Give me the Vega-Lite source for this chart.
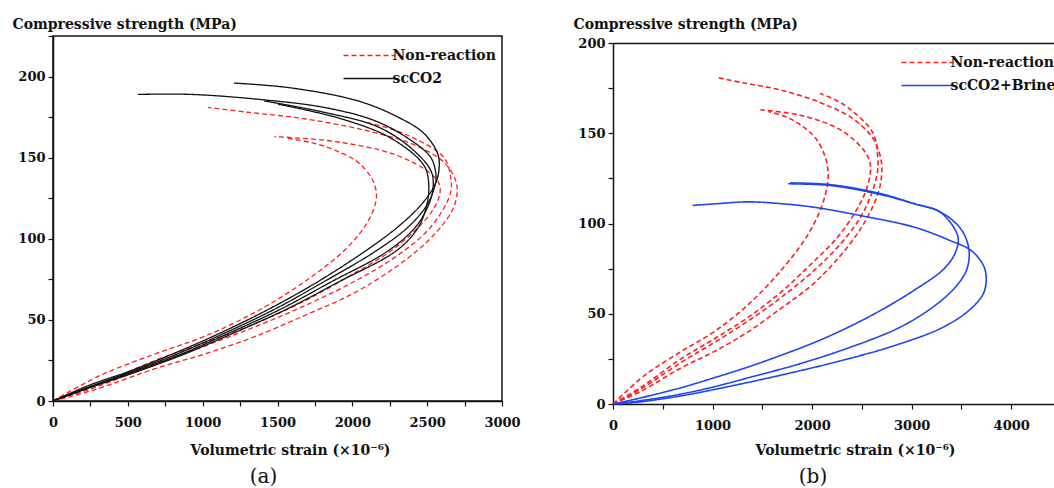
{
  "$schema": "https://vega.github.io/schema/vega-lite/v6.json",
  "background": "white",
  "padding": {"left": 11, "top": 16, "right": 0, "bottom": 0},
  "config": {
    "font": "DejaVu Serif",
    "view": {"stroke": "#111111", "strokeWidth": 1.5},
    "axis": {
      "grid": false,
      "domainColor": "#111111", "domainWidth": 1.5,
      "tickColor": "#111111", "tickWidth": 1.2, "tickSize": 5,
      "labelFont": "DejaVu Serif", "labelFontWeight": "bold", "labelFontSize": 13, "labelColor": "#111111",
      "labelOverlap": false, "labelBound": false, "labelFlush": false,
      "titleFont": "DejaVu Serif", "titleFontWeight": "bold", "titleFontSize": 14, "titleColor": "#111111"
    },
    "legend": {
      "orient": "none", "padding": 0, "rowPadding": 2,
      "symbolType": "M0,0H4", "symbolSize": 673, "symbolStrokeWidth": 1.5,
      "symbolOffset": -11.5, "labelOffset": 35,
      "labelFont": "DejaVu Serif", "labelFontWeight": "bold", "labelFontSize": 14, "labelColor": "#111111"
    }
  },
  "datasets": {
    "curves": [
      {"g":"Non-reaction","c":"N1","i":0,"e":0,"s":0},
      {"g":"Non-reaction","c":"N1","i":1,"e":280,"s":7},
      {"g":"Non-reaction","c":"N1","i":2,"e":683,"s":20},
      {"g":"Non-reaction","c":"N1","i":3,"e":1015,"s":29},
      {"g":"Non-reaction","c":"N1","i":4,"e":1357,"s":40},
      {"g":"Non-reaction","c":"N1","i":5,"e":1688,"s":53},
      {"g":"Non-reaction","c":"N1","i":6,"e":2000,"s":66},
      {"g":"Non-reaction","c":"N1","i":7,"e":2250,"s":80},
      {"g":"Non-reaction","c":"N1","i":8,"e":2450,"s":94},
      {"g":"Non-reaction","c":"N1","i":9,"e":2580,"s":106},
      {"g":"Non-reaction","c":"N1","i":10,"e":2670,"s":118},
      {"g":"Non-reaction","c":"N1","i":11,"e":2700,"s":128},
      {"g":"Non-reaction","c":"N1","i":12,"e":2690,"s":136},
      {"g":"Non-reaction","c":"N1","i":13,"e":2613,"s":147},
      {"g":"Non-reaction","c":"N1","i":14,"e":2412,"s":158},
      {"g":"Non-reaction","c":"N1","i":15,"e":2080,"s":167},
      {"g":"Non-reaction","c":"N1","i":16,"e":1680,"s":174},
      {"g":"Non-reaction","c":"N1","i":17,"e":1300,"s":178},
      {"g":"Non-reaction","c":"N1","i":18,"e":1035,"s":181},

      {"g":"Non-reaction","c":"N2","i":0,"e":0,"s":0},
      {"g":"Non-reaction","c":"N2","i":1,"e":300,"s":9},
      {"g":"Non-reaction","c":"N2","i":2,"e":683,"s":23},
      {"g":"Non-reaction","c":"N2","i":3,"e":1015,"s":34},
      {"g":"Non-reaction","c":"N2","i":4,"e":1357,"s":46},
      {"g":"Non-reaction","c":"N2","i":5,"e":1688,"s":59},
      {"g":"Non-reaction","c":"N2","i":6,"e":2020,"s":74},
      {"g":"Non-reaction","c":"N2","i":7,"e":2291,"s":89},
      {"g":"Non-reaction","c":"N2","i":8,"e":2492,"s":104},
      {"g":"Non-reaction","c":"N2","i":9,"e":2600,"s":117},
      {"g":"Non-reaction","c":"N2","i":10,"e":2655,"s":128},
      {"g":"Non-reaction","c":"N2","i":11,"e":2660,"s":136},
      {"g":"Non-reaction","c":"N2","i":12,"e":2613,"s":150},
      {"g":"Non-reaction","c":"N2","i":13,"e":2412,"s":162},
      {"g":"Non-reaction","c":"N2","i":14,"e":2250,"s":168},
      {"g":"Non-reaction","c":"N2","i":15,"e":2080,"s":172},

      {"g":"Non-reaction","c":"N3","i":0,"e":0,"s":0},
      {"g":"Non-reaction","c":"N3","i":1,"e":300,"s":10},
      {"g":"Non-reaction","c":"N3","i":2,"e":683,"s":25},
      {"g":"Non-reaction","c":"N3","i":3,"e":1015,"s":36},
      {"g":"Non-reaction","c":"N3","i":4,"e":1357,"s":48},
      {"g":"Non-reaction","c":"N3","i":5,"e":1688,"s":62},
      {"g":"Non-reaction","c":"N3","i":6,"e":1980,"s":77},
      {"g":"Non-reaction","c":"N3","i":7,"e":2250,"s":92},
      {"g":"Non-reaction","c":"N3","i":8,"e":2430,"s":106},
      {"g":"Non-reaction","c":"N3","i":9,"e":2540,"s":118},
      {"g":"Non-reaction","c":"N3","i":10,"e":2585,"s":128},
      {"g":"Non-reaction","c":"N3","i":11,"e":2580,"s":134},
      {"g":"Non-reaction","c":"N3","i":12,"e":2513,"s":141},
      {"g":"Non-reaction","c":"N3","i":13,"e":2281,"s":152},
      {"g":"Non-reaction","c":"N3","i":14,"e":1879,"s":160},
      {"g":"Non-reaction","c":"N3","i":15,"e":1480,"s":163},

      {"g":"Non-reaction","c":"N4","i":0,"e":0,"s":0},
      {"g":"Non-reaction","c":"N4","i":1,"e":321,"s":16},
      {"g":"Non-reaction","c":"N4","i":2,"e":683,"s":29},
      {"g":"Non-reaction","c":"N4","i":3,"e":1015,"s":40},
      {"g":"Non-reaction","c":"N4","i":4,"e":1357,"s":55},
      {"g":"Non-reaction","c":"N4","i":5,"e":1688,"s":74},
      {"g":"Non-reaction","c":"N4","i":6,"e":1960,"s":94},
      {"g":"Non-reaction","c":"N4","i":7,"e":2100,"s":110},
      {"g":"Non-reaction","c":"N4","i":8,"e":2155,"s":122},
      {"g":"Non-reaction","c":"N4","i":9,"e":2160,"s":129},
      {"g":"Non-reaction","c":"N4","i":10,"e":2131,"s":137},
      {"g":"Non-reaction","c":"N4","i":11,"e":2040,"s":147},
      {"g":"Non-reaction","c":"N4","i":12,"e":1900,"s":154},
      {"g":"Non-reaction","c":"N4","i":13,"e":1740,"s":159},
      {"g":"Non-reaction","c":"N4","i":14,"e":1560,"s":162},

      {"g":"scCO2","c":"K1","i":0,"e":0,"s":0},
      {"g":"scCO2","c":"K1","i":1,"e":250,"s":10},
      {"g":"scCO2","c":"K1","i":2,"e":500,"s":18},
      {"g":"scCO2","c":"K1","i":3,"e":800,"s":29},
      {"g":"scCO2","c":"K1","i":4,"e":1120,"s":42},
      {"g":"scCO2","c":"K1","i":5,"e":1450,"s":57},
      {"g":"scCO2","c":"K1","i":6,"e":1760,"s":73},
      {"g":"scCO2","c":"K1","i":7,"e":2080,"s":92},
      {"g":"scCO2","c":"K1","i":8,"e":2300,"s":107},
      {"g":"scCO2","c":"K1","i":9,"e":2460,"s":121},
      {"g":"scCO2","c":"K1","i":10,"e":2550,"s":133},
      {"g":"scCO2","c":"K1","i":11,"e":2578,"s":142},
      {"g":"scCO2","c":"K1","i":12,"e":2572,"s":152},
      {"g":"scCO2","c":"K1","i":13,"e":2478,"s":165},
      {"g":"scCO2","c":"K1","i":14,"e":2305,"s":175},
      {"g":"scCO2","c":"K1","i":15,"e":2037,"s":185},
      {"g":"scCO2","c":"K1","i":16,"e":1590,"s":193},
      {"g":"scCO2","c":"K1","i":17,"e":1209,"s":196},

      {"g":"scCO2","c":"K2","i":0,"e":0,"s":0},
      {"g":"scCO2","c":"K2","i":1,"e":250,"s":9},
      {"g":"scCO2","c":"K2","i":2,"e":520,"s":18},
      {"g":"scCO2","c":"K2","i":3,"e":830,"s":29},
      {"g":"scCO2","c":"K2","i":4,"e":1150,"s":42},
      {"g":"scCO2","c":"K2","i":5,"e":1490,"s":57},
      {"g":"scCO2","c":"K2","i":6,"e":1800,"s":73},
      {"g":"scCO2","c":"K2","i":7,"e":2150,"s":92},
      {"g":"scCO2","c":"K2","i":8,"e":2370,"s":107},
      {"g":"scCO2","c":"K2","i":9,"e":2500,"s":121},
      {"g":"scCO2","c":"K2","i":10,"e":2555,"s":134},
      {"g":"scCO2","c":"K2","i":11,"e":2558,"s":140},
      {"g":"scCO2","c":"K2","i":12,"e":2525,"s":150},
      {"g":"scCO2","c":"K2","i":13,"e":2371,"s":162},
      {"g":"scCO2","c":"K2","i":14,"e":2144,"s":173},
      {"g":"scCO2","c":"K2","i":15,"e":1810,"s":181},
      {"g":"scCO2","c":"K2","i":16,"e":1369,"s":186},
      {"g":"scCO2","c":"K2","i":17,"e":922,"s":189},
      {"g":"scCO2","c":"K2","i":18,"e":568,"s":189},

      {"g":"scCO2","c":"K3","i":0,"e":0,"s":0},
      {"g":"scCO2","c":"K3","i":1,"e":260,"s":9},
      {"g":"scCO2","c":"K3","i":2,"e":540,"s":18},
      {"g":"scCO2","c":"K3","i":3,"e":860,"s":29},
      {"g":"scCO2","c":"K3","i":4,"e":1180,"s":42},
      {"g":"scCO2","c":"K3","i":5,"e":1530,"s":57},
      {"g":"scCO2","c":"K3","i":6,"e":1850,"s":73},
      {"g":"scCO2","c":"K3","i":7,"e":2230,"s":92},
      {"g":"scCO2","c":"K3","i":8,"e":2420,"s":107},
      {"g":"scCO2","c":"K3","i":9,"e":2510,"s":121},
      {"g":"scCO2","c":"K3","i":10,"e":2540,"s":132},
      {"g":"scCO2","c":"K3","i":11,"e":2525,"s":142},
      {"g":"scCO2","c":"K3","i":12,"e":2391,"s":156},
      {"g":"scCO2","c":"K3","i":13,"e":2171,"s":169},
      {"g":"scCO2","c":"K3","i":14,"e":1810,"s":178},
      {"g":"scCO2","c":"K3","i":15,"e":1410,"s":185},

      {"g":"scCO2","c":"K4","i":0,"e":0,"s":0},
      {"g":"scCO2","c":"K4","i":1,"e":270,"s":9},
      {"g":"scCO2","c":"K4","i":2,"e":560,"s":18},
      {"g":"scCO2","c":"K4","i":3,"e":880,"s":29},
      {"g":"scCO2","c":"K4","i":4,"e":1210,"s":42},
      {"g":"scCO2","c":"K4","i":5,"e":1570,"s":57},
      {"g":"scCO2","c":"K4","i":6,"e":1900,"s":73},
      {"g":"scCO2","c":"K4","i":7,"e":2300,"s":93},
      {"g":"scCO2","c":"K4","i":8,"e":2440,"s":107},
      {"g":"scCO2","c":"K4","i":9,"e":2495,"s":120},
      {"g":"scCO2","c":"K4","i":10,"e":2511,"s":132},
      {"g":"scCO2","c":"K4","i":11,"e":2480,"s":145},
      {"g":"scCO2","c":"K4","i":12,"e":2258,"s":162},
      {"g":"scCO2","c":"K4","i":13,"e":1924,"s":174},
      {"g":"scCO2","c":"K4","i":14,"e":1503,"s":183},

      {"g":"scCO2+Brine","c":"B1","i":0,"e":0,"s":0},
      {"g":"scCO2+Brine","c":"B1","i":1,"e":250,"s":3},
      {"g":"scCO2+Brine","c":"B1","i":2,"e":683,"s":9},
      {"g":"scCO2+Brine","c":"B1","i":3,"e":1015,"s":14.5},
      {"g":"scCO2+Brine","c":"B1","i":4,"e":1357,"s":20.5},
      {"g":"scCO2+Brine","c":"B1","i":5,"e":1688,"s":27},
      {"g":"scCO2+Brine","c":"B1","i":6,"e":2020,"s":34},
      {"g":"scCO2+Brine","c":"B1","i":7,"e":2362,"s":42.5},
      {"g":"scCO2+Brine","c":"B1","i":8,"e":2693,"s":52},
      {"g":"scCO2+Brine","c":"B1","i":9,"e":3025,"s":63},
      {"g":"scCO2+Brine","c":"B1","i":10,"e":3327,"s":75},
      {"g":"scCO2+Brine","c":"B1","i":11,"e":3440,"s":84},
      {"g":"scCO2+Brine","c":"B1","i":12,"e":3467,"s":92},
      {"g":"scCO2+Brine","c":"B1","i":13,"e":3397,"s":100},
      {"g":"scCO2+Brine","c":"B1","i":14,"e":3266,"s":107},
      {"g":"scCO2+Brine","c":"B1","i":15,"e":3025,"s":111},
      {"g":"scCO2+Brine","c":"B1","i":16,"e":2693,"s":116},
      {"g":"scCO2+Brine","c":"B1","i":17,"e":2191,"s":121},
      {"g":"scCO2+Brine","c":"B1","i":18,"e":1759,"s":122},

      {"g":"scCO2+Brine","c":"B2","i":0,"e":0,"s":0},
      {"g":"scCO2+Brine","c":"B2","i":1,"e":300,"s":2},
      {"g":"scCO2+Brine","c":"B2","i":2,"e":683,"s":5.5},
      {"g":"scCO2+Brine","c":"B2","i":3,"e":1015,"s":9.5},
      {"g":"scCO2+Brine","c":"B2","i":4,"e":1357,"s":14.5},
      {"g":"scCO2+Brine","c":"B2","i":5,"e":1859,"s":22},
      {"g":"scCO2+Brine","c":"B2","i":6,"e":2362,"s":31},
      {"g":"scCO2+Brine","c":"B2","i":7,"e":2864,"s":42},
      {"g":"scCO2+Brine","c":"B2","i":8,"e":3196,"s":53},
      {"g":"scCO2+Brine","c":"B2","i":9,"e":3427,"s":64},
      {"g":"scCO2+Brine","c":"B2","i":10,"e":3550,"s":74},
      {"g":"scCO2+Brine","c":"B2","i":11,"e":3578,"s":84},
      {"g":"scCO2+Brine","c":"B2","i":12,"e":3528,"s":94},
      {"g":"scCO2+Brine","c":"B2","i":13,"e":3427,"s":101},
      {"g":"scCO2+Brine","c":"B2","i":14,"e":3266,"s":107},
      {"g":"scCO2+Brine","c":"B2","i":15,"e":3025,"s":111},
      {"g":"scCO2+Brine","c":"B2","i":16,"e":2693,"s":116.5},
      {"g":"scCO2+Brine","c":"B2","i":17,"e":2191,"s":121.5},
      {"g":"scCO2+Brine","c":"B2","i":18,"e":1780,"s":122.5},

      {"g":"scCO2+Brine","c":"B3","i":0,"e":0,"s":0},
      {"g":"scCO2+Brine","c":"B3","i":1,"e":250,"s":1},
      {"g":"scCO2+Brine","c":"B3","i":2,"e":683,"s":4.5},
      {"g":"scCO2+Brine","c":"B3","i":3,"e":1015,"s":8},
      {"g":"scCO2+Brine","c":"B3","i":4,"e":1688,"s":16},
      {"g":"scCO2+Brine","c":"B3","i":5,"e":2362,"s":25},
      {"g":"scCO2+Brine","c":"B3","i":6,"e":2864,"s":33},
      {"g":"scCO2+Brine","c":"B3","i":7,"e":3296,"s":42},
      {"g":"scCO2+Brine","c":"B3","i":8,"e":3568,"s":51.5},
      {"g":"scCO2+Brine","c":"B3","i":9,"e":3719,"s":61},
      {"g":"scCO2+Brine","c":"B3","i":10,"e":3749,"s":70},
      {"g":"scCO2+Brine","c":"B3","i":11,"e":3719,"s":77},
      {"g":"scCO2+Brine","c":"B3","i":12,"e":3598,"s":85},
      {"g":"scCO2+Brine","c":"B3","i":13,"e":3367,"s":91},
      {"g":"scCO2+Brine","c":"B3","i":14,"e":3025,"s":98},
      {"g":"scCO2+Brine","c":"B3","i":15,"e":2523,"s":104},
      {"g":"scCO2+Brine","c":"B3","i":16,"e":2020,"s":109},
      {"g":"scCO2+Brine","c":"B3","i":17,"e":1688,"s":111},
      {"g":"scCO2+Brine","c":"B3","i":18,"e":1357,"s":112},
      {"g":"scCO2+Brine","c":"B3","i":19,"e":1050,"s":111},
      {"g":"scCO2+Brine","c":"B3","i":20,"e":800,"s":110}
    ]
  },
  "spacing": 111,
  "bounds": "flush",
  "resolve": {
    "scale": {"color": "independent", "strokeDash": "independent", "x": "independent", "y": "independent"},
    "legend": {"color": "independent", "strokeDash": "independent"}
  },
  "hconcat": [
    {
      "width": 449,
      "height": 365,
      "data": {"name": "curves"},
      "transform": [{"filter": "datum.g !== 'scCO2+Brine'"}],
      "title": {"text": "(a)", "orient": "bottom", "anchor": "middle", "font": "DejaVu Serif", "fontWeight": "normal", "fontSize": 20, "color": "#111111", "dx": -14, "offset": 10},
      "mark": {"type": "line", "strokeWidth": 1.3, "interpolate": "catmull-rom"},
      "encoding": {
        "x": {
          "field": "e", "type": "quantitative",
          "scale": {"domain": [0, 3000], "nice": false, "zero": true},
          "axis": {
            "values": [0, 250, 500, 750, 1000, 1250, 1500, 1750, 2000, 2250, 2500, 2750, 3000],
            "format": "d",
            "labelExpr": "datum.value % 500 === 0 ? datum.label : ''",
            "labelPadding": 10,
            "title": "Volumetric strain (×10⁻⁶)",
            "titleX": 237, "titleY": 53, "titleBaseline": "alphabetic"
          }
        },
        "y": {
          "field": "s", "type": "quantitative",
          "scale": {"domain": [0, 225], "nice": false},
          "axis": {
            "values": [0, 25, 50, 75, 100, 125, 150, 175, 200, 225],
            "format": "d",
            "labelExpr": "datum.value % 50 === 0 ? datum.label : ''",
            "labelPadding": 3,
            "title": "Compressive strength (MPa)",
            "titleAngle": 0, "titleAlign": "left", "titleBaseline": "alphabetic",
            "titleX": -41, "titleY": -8
          }
        },
        "color": {
          "field": "g", "type": "nominal",
          "scale": {"domain": ["Non-reaction", "scCO2"], "range": ["#ff1f1f", "#111111"]},
          "legend": {"title": null, "legendX": 288, "legendY": 5.5}
        },
        "strokeDash": {
          "field": "g", "type": "nominal",
          "scale": {"domain": ["Non-reaction", "scCO2"], "range": [[5, 3], [1, 0]]},
          "legend": {"title": null, "legendX": 288, "legendY": 5.5}
        },
        "detail": {"field": "c", "type": "nominal"},
        "order": {"field": "i", "type": "quantitative"}
      }
    },
    {
      "width": 442,
      "height": 368,
      "view": {"stroke": null},
      "data": {"name": "curves"},
      "transform": [{"filter": "datum.g !== 'scCO2'"}],
      "title": {"text": "(b)", "orient": "bottom", "anchor": "middle", "font": "DejaVu Serif", "fontWeight": "normal", "fontSize": 20, "color": "#111111", "dx": -21, "offset": 10},
      "resolve": {"axis": {"x": "independent"}},
      "layer": [
        {
          "mark": {"type": "line", "strokeWidth": 1.6, "interpolate": "catmull-rom"},
          "encoding": {
            "x": {
              "field": "e", "type": "quantitative",
              "scale": {"domain": [0, 4440], "nice": false, "zero": true},
              "axis": {
                "orient": "bottom",
                "values": [0, 500, 1000, 1500, 2000, 2500, 3000, 3500, 4000],
                "format": "d",
                "labelExpr": "datum.value % 1000 === 0 ? datum.label : ''",
                "labelPadding": 10,
                "title": "Volumetric strain (×10⁻⁶)",
                "titleX": 242, "titleY": 50, "titleBaseline": "alphabetic"
              }
            },
            "y": {
              "field": "s", "type": "quantitative",
              "scale": {"domain": [0, 200], "nice": false, "range": [368, 7]},
              "axis": {
                "orient": "left",
                "values": [0, 25, 50, 75, 100, 125, 150, 175, 200],
                "format": "d",
                "labelExpr": "datum.value % 50 === 0 ? datum.label : ''",
                "labelPadding": 3,
                "title": "Compressive strength (MPa)",
                "titleAngle": 0, "titleAlign": "left", "titleBaseline": "alphabetic",
                "titleX": -40, "titleY": -8
              }
            },
            "color": {
              "field": "g", "type": "nominal",
              "scale": {"domain": ["Non-reaction", "scCO2+Brine"], "range": ["#ff1f1f", "#1f45f2"]},
              "legend": {"title": null, "legendX": 286, "legendY": 12.5}
            },
            "strokeDash": {
              "field": "g", "type": "nominal",
              "scale": {"domain": ["Non-reaction", "scCO2+Brine"], "range": [[5, 3], [1, 0]]},
              "legend": {"title": null, "legendX": 286, "legendY": 12.5}
            },
            "detail": {"field": "c", "type": "nominal"},
            "order": {"field": "i", "type": "quantitative"}
          }
        },
        {
          "mark": {"type": "line", "opacity": 0},
          "encoding": {
            "x": {
              "field": "e", "type": "quantitative",
              "scale": {"domain": [0, 4440], "nice": false, "zero": true},
              "axis": {"orient": "top", "offset": -7, "ticks": false, "labels": false, "title": null, "domain": true}
            },
            "y": {
              "field": "s", "type": "quantitative",
              "scale": {"domain": [0, 200], "nice": false, "range": [368, 7]},
              "axis": {
                "orient": "left",
                "values": [0, 25, 50, 75, 100, 125, 150, 175, 200],
                "format": "d",
                "labelExpr": "datum.value % 50 === 0 ? datum.label : ''",
                "labelPadding": 3,
                "title": "Compressive strength (MPa)",
                "titleAngle": 0, "titleAlign": "left", "titleBaseline": "alphabetic",
                "titleX": -40, "titleY": -8
              }
            },
            "detail": {"field": "c", "type": "nominal"},
            "order": {"field": "i", "type": "quantitative"}
          }
        }
      ]
    }
  ]
}
